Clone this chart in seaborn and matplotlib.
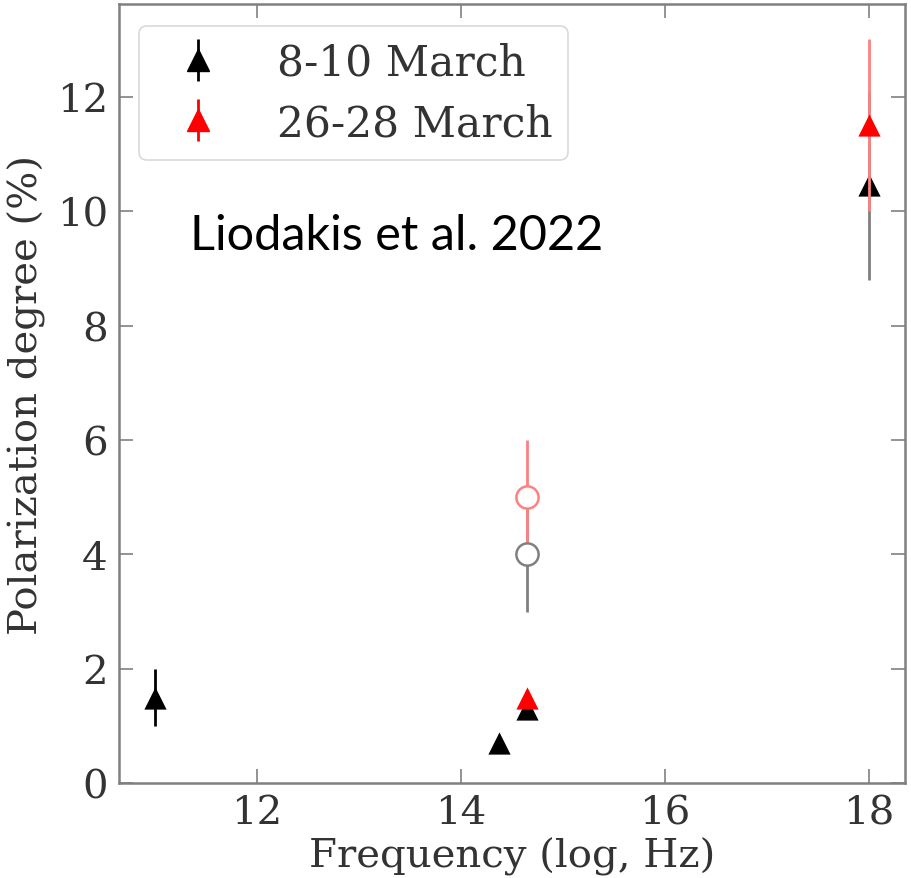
import numpy as np
import pandas as pd
import matplotlib
matplotlib.use("Agg")
import matplotlib.pyplot as plt
import seaborn as sns

# Multiwavelength polarization degree, two observing epochs
epochs = ["8-10 March", "26-28 March"]

# filled triangles: radio (mm), near-IR, optical, X-ray
freq_mar8 = [11.0, 14.37, 14.65, 18.0]
pol_mar8 = [1.5, 0.7, 1.3, 10.45]
err_mar8 = [0.5, 0.05, 0.15, 1.65]

freq_mar26 = [14.65, 18.0]
pol_mar26 = [1.5, 11.5]
err_mar26 = [0.08, 1.5]

# open circles: optical, alternate estimate
freq_open = [14.65, 14.65]
pol_open = [4.0, 5.0]
err_open = [1.0, 1.0]
open_epoch = ["8-10 March", "26-28 March"]

x_ticks = [12, 14, 16, 18]
y_ticks = [0, 2, 4, 6, 8, 10, 12]

colors = {"8-10 March": "black", "26-28 March": "red"}
faded = {"8-10 March": "#808080", "26-28 March": "#ff8080"}

df = pd.DataFrame({
    "freq": freq_mar8 + freq_mar26,
    "pol": pol_mar8 + pol_mar26,
    "err": err_mar8 + err_mar26,
    "epoch": [epochs[0]] * len(freq_mar8) + [epochs[1]] * len(freq_mar26),
})

sns.set_theme(style="ticks")
plt.rcParams["font.family"] = ["DejaVu Serif"]
plt.rcParams["mathtext.fontset"] = "dejavuserif"

fig = plt.figure(figsize=(9.11, 8.79), dpi=100)
ax = fig.add_axes([0.1306, 0.1077, 0.8624, 0.8866])

spine_col = "#808080"
ms = 16

# open circles: faded error bars first, then the circles above all bars
for i, (f, p, e, ep) in enumerate(zip(freq_open, pol_open, err_open, open_epoch)):
    ax.errorbar(f, p, yerr=e, fmt="none", ecolor=faded[ep], elinewidth=2.0,
                capsize=0, zorder=3 + i)
for f, p, ep in zip(freq_open, pol_open, open_epoch):
    ax.plot(f, p, "o", ms=16, mfc="white", mec=faded[ep], mew=1.8, zorder=5)

# error bars of the triangles: X-ray bars faded, others solid
for ep in epochs:
    sub = df[df["epoch"] == ep]
    for f, p, e in zip(sub["freq"], sub["pol"], sub["err"]):
        ec = faded[ep] if f >= 17 else colors[ep]
        ax.errorbar(f, p, yerr=e, fmt="none", ecolor=ec, elinewidth=2.0,
                    capsize=0, zorder=6 if ep == epochs[0] else 8)

# triangle markers
for i, ep in enumerate(epochs):
    sns.scatterplot(data=df[df["epoch"] == ep], x="freq", y="pol", ax=ax,
                    marker="^", s=ms ** 2, color=colors[ep],
                    edgecolor=colors[ep], linewidth=0, legend=False,
                    zorder=7 if i == 0 else 9)

# legend handles
handles = []
for ep in epochs:
    h = ax.errorbar([np.nan], [np.nan], yerr=[1.0], fmt="^", ms=ms,
                    color=colors[ep], ecolor=colors[ep], elinewidth=2.0,
                    capsize=0, label=ep)
    handles.append(h)
leg = ax.legend(handles=handles, loc="upper left", bbox_to_anchor=(0.025, 0.972),
                borderaxespad=0, fontsize=30.5, frameon=True, fancybox=True,
                handlelength=2.05, handletextpad=0.83, labelspacing=0.43,
                borderpad=0.38)
leg.get_frame().set_edgecolor("#d0d0d0")
leg.get_frame().set_linewidth(1.2)
for t in leg.get_texts():
    t.set_color("#333333")

ax.text(0.09, 0.685, "Liodakis et al. 2022", transform=ax.transAxes,
        fontsize=35, family=["Lato", "DejaVu Sans"], color="black",
        ha="left", va="baseline")

ax.set_xlim(10.65, 18.35)
ax.set_ylim(0, 13.62)
ax.set_xticks(x_ticks)
ax.set_yticks(y_ticks)
ax.tick_params(direction="in", top=True, right=True, length=10, width=1.2,
               color=spine_col, labelsize=29, labelcolor="#333333", pad=8)
for s in ax.spines.values():
    s.set_color(spine_col)
    s.set_linewidth(1.8)

ax.set_xlabel("Frequency (log, Hz)", fontsize=29, color="#333333", labelpad=4)
ax.set_ylabel("Polarization degree (%)", fontsize=29, color="#333333", labelpad=8)

fig.savefig("out.png", dpi=100, facecolor="white")
